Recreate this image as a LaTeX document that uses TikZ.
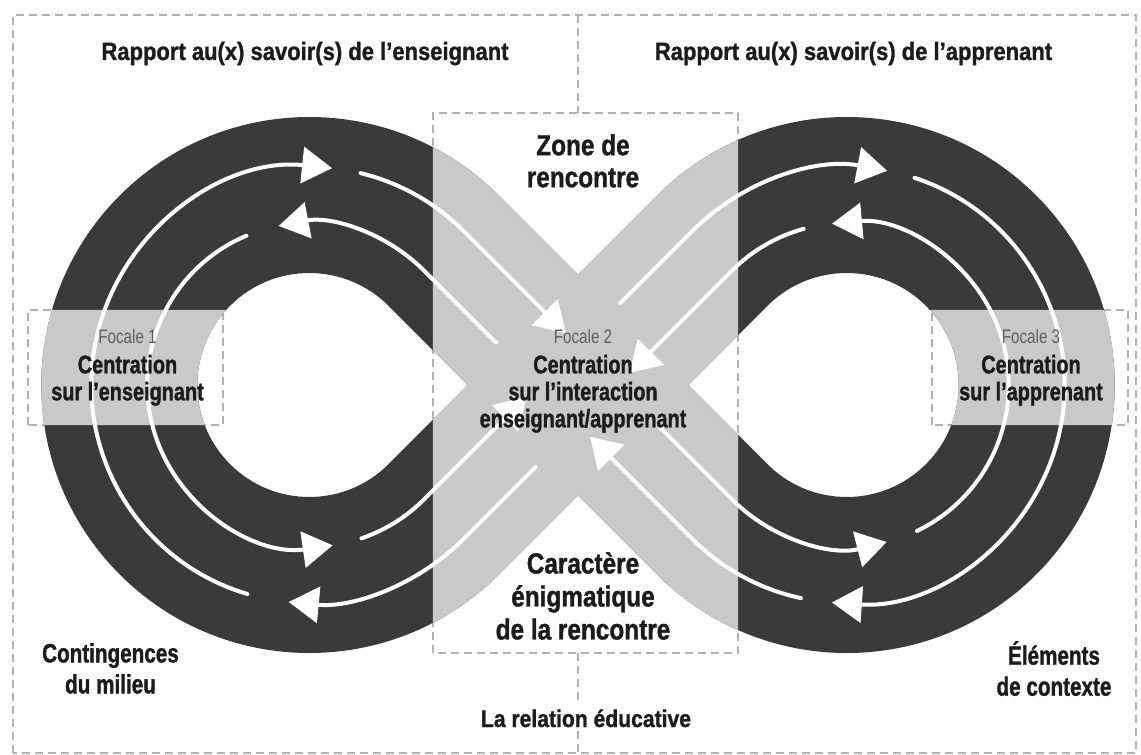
\documentclass[tikz,border=0pt]{standalone}
\usepackage{fontspec}
\usepackage{tikz}
\usetikzlibrary{arrows.meta,calc}
\newfontfamily\headfont{Liberation Sans}[FakeStretch=0.88,BoldFeatures={FakeBold=1.2}]
\newfontfamily\bodyfont{Liberation Sans}[FakeStretch=0.78,BoldFeatures={FakeBold=1.2}]
\newfontfamily\bigfont{Liberation Sans}[FakeStretch=0.84,BoldFeatures={FakeBold=1.2}]
\definecolor{ringcolor}{RGB}{58,58,58}
\definecolor{zonecolor}{RGB}{201,201,201}
\definecolor{dashcolor}{RGB}{178,178,178}
\definecolor{textcolor}{RGB}{28,28,28}
\definecolor{focalecolor}{RGB}{95,95,95}
\newcommand{\focale}[1]{{\bodyfont\mdseries\fontsize{19.5}{28}\selectfont\color{focalecolor}#1}}
% the infinity band: two open rings and the two crossing strips
\newcommand{\loopshape}{%
  ($(c0)+(45:268)$) arc[start angle=45,end angle=315,radius=268]
    -- ++(135:156) arc[start angle=315,end angle=45,radius=112] -- cycle
  ($(c1)+(-135:268)$) arc[start angle=-135,end angle=135,radius=268]
    -- ++(-45:156) arc[start angle=135,end angle=-135,radius=112] -- cycle
  (-79.2,189.5) -- (-189.5,79.2) -- (79.2,-189.5) -- (189.5,-79.2) -- cycle
  (79.2,189.5) -- (-189.5,-79.2) -- (-79.2,-189.5) -- (189.5,79.2) -- cycle}

\begin{document}
\begin{tikzpicture}[%
    x=1pt, y=1pt,                          % one unit per pixel of the layout
    >={Triangle[length=30pt,width=36pt]},  % big white heads on the tracks
    ]
\tikzset{
  frame/.style={draw=dashcolor, line width=1.3pt, dash pattern=on 8pt off 5pt},
  track/.style={draw=white, line width=4pt, line cap=round, ->},
  txt/.style={text=textcolor, inner sep=0pt, align=center},
  head/.style={txt, font=\headfont\bfseries\fontsize{25}{30}\selectfont},
  body/.style={txt, font=\bodyfont\bfseries\fontsize{25.5}{27}\selectfont},
  side/.style={txt, font=\bodyfont\bfseries\fontsize{26.5}{31}\selectfont},
  big/.style={txt, font=\bigfont\bfseries\fontsize{29}{32}\selectfont},
}

\useasboundingbox (-578,-370) rectangle (563,385);
\fill[white] (-578,-370) rectangle (563,385);
\coordinate (c0) at (-268.7,0);
\coordinate (c1) at (268.7,0);

%frames
\draw[frame] (-565,-368) rectangle (558,370);
\draw[frame] (0,370) -- (0,272);
\draw[frame] (0,-268) -- (0,-368);
\draw[frame] (-145,-268) rectangle (160,272);
\draw[frame] (-550,-40) rectangle (-355,75);
\draw[frame] (354,-40) rectangle (550,75);

%band
\fill[ringcolor] \loopshape;
\begin{scope}
  \clip (-145,-300) rectangle (160,300);
  \fill[zonecolor] \loopshape;
\end{scope}
\begin{scope}
  \clip (-600,-40) rectangle (-300,75) (300,-40) rectangle (600,75);
  \fill[zonecolor] \loopshape;
\end{scope}

%tracks, first loop
\draw[track] ($(c0)+(253.5:218)$) arc[start angle=253.5,end angle=84,radius=218];
\draw[track] ($(c0)+(76.4:218)$) arc[start angle=76.4,end angle=45,radius=218] -- ++(-45:145);
\draw[track] ($(c1)+(225:162)+(135:102)$) -- ++(-45:102) arc[start angle=225,end angle=284.3,radius=162];
\draw[track] ($(c1)+(295.7:162)$) arc[start angle=295.7,end angle=455.2,radius=162];
\draw[track] ($(c1)+(105.4:162)$) arc[start angle=105.4,end angle=135,radius=162] -- ++(225:145);
\draw[track] ($(c0)+(-45:218)+(45:102)$) -- ++(225:102) arc[start angle=-45,end angle=-95.4,radius=218];

%tracks, second loop
\draw[track] ($(c0)+(45:162)+(-45:102)$) -- ++(135:102) arc[start angle=45,end angle=100.9,radius=162];
\draw[track] ($(c0)+(112.8:162)$) arc[start angle=112.8,end angle=278.3,radius=162];
\draw[track] ($(c0)+(288.8:162)$) arc[start angle=288.8,end angle=315,radius=162] -- ++(45:145);
\draw[track] ($(c1)+(135:218)+(225:102)$) -- ++(45:102) arc[start angle=135,end angle=79.3,radius=218];
\draw[track] ($(c1)+(71.9:218)$) arc[start angle=71.9,end angle=-93.9,radius=218];
\draw[track] ($(c1)+(257.9:218)$) arc[start angle=257.9,end angle=225,radius=218] -- ++(135:145);

%texts
\node[head, anchor=base] (t0) at (-273,325) {Rapport au(x) savoir(s) de l’enseignant};
\node[head, anchor=base] (t1) at (275.5,325) {Rapport au(x) savoir(s) de l’apprenant};
\node[big, anchor=north] (t2) at (5,251) {Zone de\\rencontre};
\node[body, anchor=north] (t3) at (5,56) {\focale{Focale 2}\\[3pt]Centration\\sur l’interaction\\enseignant/apprenant};
\node[body, anchor=north] (t4) at (-450.5,56) {\focale{Focale 1}\\[3pt]Centration\\sur l’enseignant};
\node[body, anchor=north] (t5) at (453,56) {\focale{Focale 3}\\[3pt]Centration\\sur l’apprenant};
\node[big, anchor=north, font=\bigfont\bfseries\fontsize{29}{33}\selectfont] (t6) at (5,-167) {Caractère\\énigmatique\\de la rencontre};
\node[side, anchor=north] (t7) at (-467.5,-258) {Contingences\\du milieu};
\node[side, anchor=north] (t8) at (476,-256) {Éléments\\de contexte};
\node[head, anchor=base, fill=white, inner sep=4pt, font=\headfont\bfseries\fontsize{24}{28}\selectfont] (t9) at (8,-342) {La relation éducative};
\end{tikzpicture}
\end{document}
